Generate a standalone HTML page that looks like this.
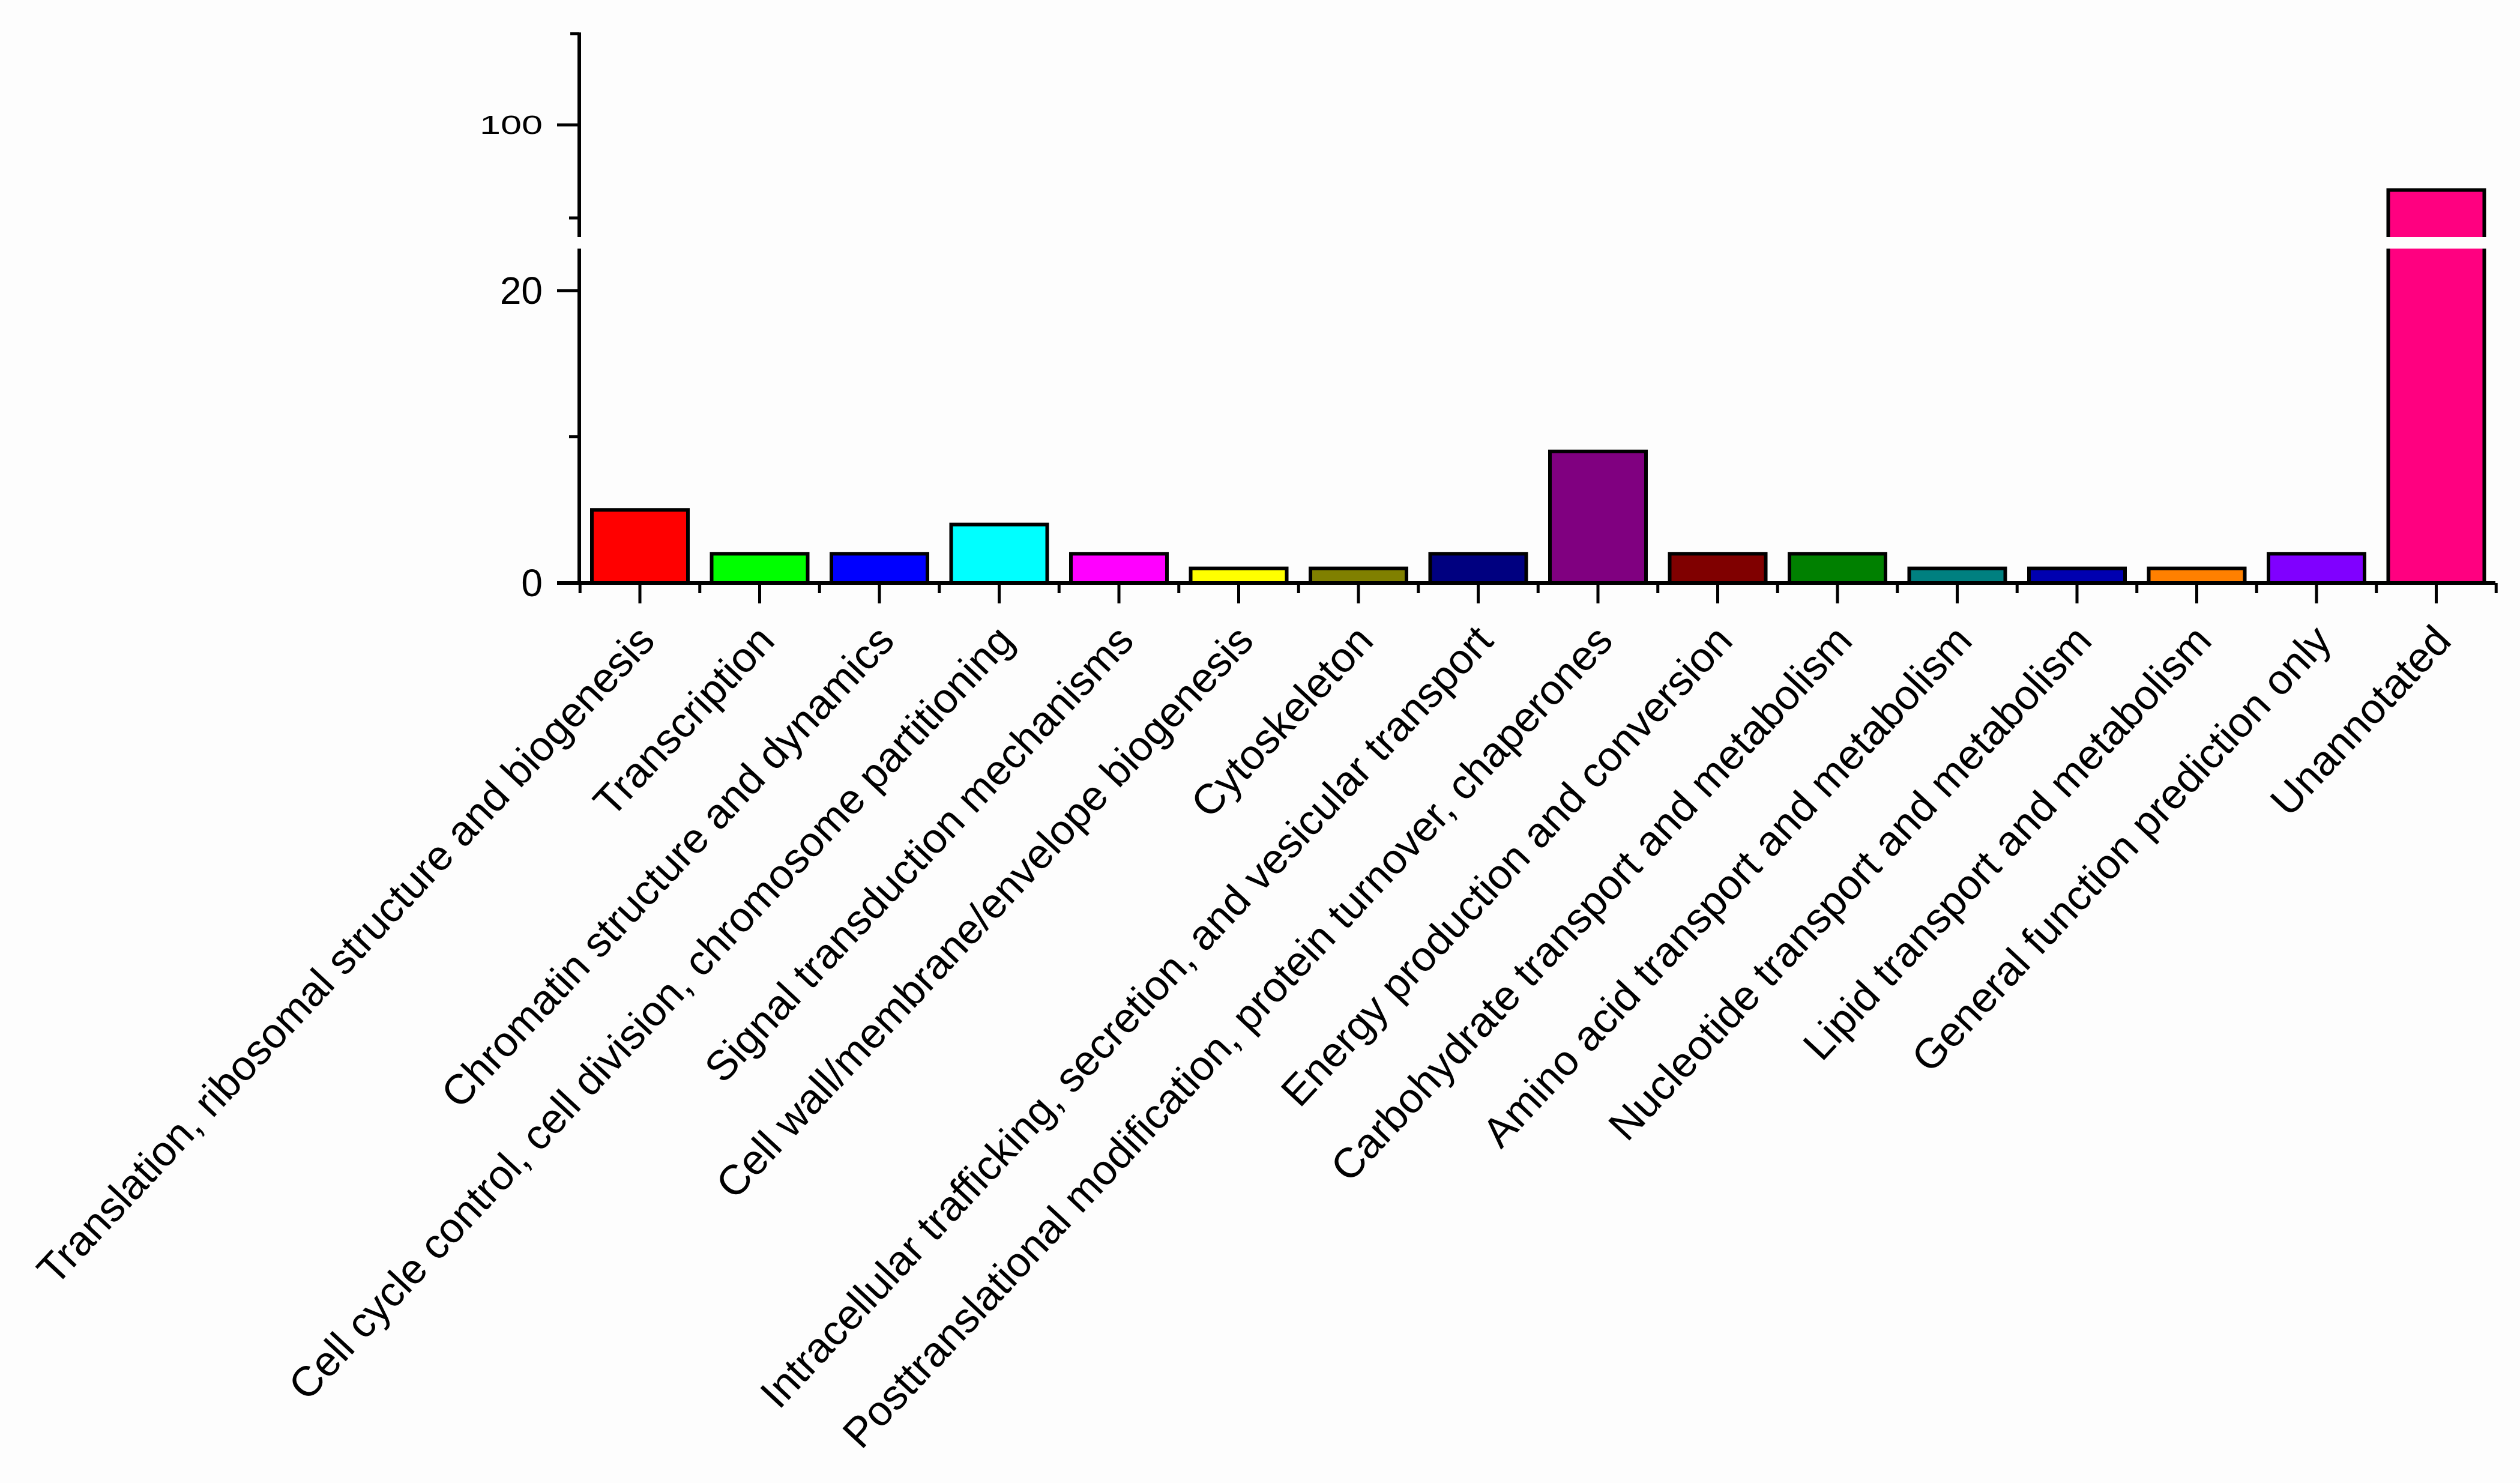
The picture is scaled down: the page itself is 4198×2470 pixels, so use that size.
<!DOCTYPE html>
<html><head><meta charset="utf-8"><style>
html,body{margin:0;padding:0;background:#fdfdfd;}
svg{display:block;}
text{font-family:"Liberation Sans",Arial,sans-serif;fill:#000;}
</style></head><body>
<svg id="chart" width="4198" height="2470" viewBox="0 0 4198 2470" xmlns="http://www.w3.org/2000/svg">
<rect x="0" y="0" width="4198" height="2470" fill="#fdfdfd"/>
<g id="g"></g>
</svg>
<script>
const categories = ["Translation, ribosomal structure and biogenesis","Transcription","Chromatin structure and dynamics","Cell cycle control, cell division, chromosome partitioning","Signal transduction mechanisms","Cell wall/membrane/envelope biogenesis","Cytoskeleton","Intracellular trafficking, secretion, and vesicular transport","Posttranslational modification, protein turnover, chaperones","Energy production and conversion","Carbohydrate transport and metabolism","Amino acid transport and metabolism","Nucleotide transport and metabolism","Lipid transport and metabolism","General function prediction only","Unannotated"];
const values = [5,2,2,4,2,1,1,2,9,2,2,1,1,1,2,86];
const colors = ["#ff0000","#00ff00","#0000ff","#00ffff","#ff00ff","#ffff00","#808000","#000080","#800080","#800000","#008000","#008080","#0000b0","#ff8000","#8000ff","#ff0080"];
const lowerTicks = [0,20];
const upperTicks = [100];

const NS="http://www.w3.org/2000/svg";
const g=document.getElementById('g');
function mk(tag,attrs){const e=document.createElementNS(NS,tag);for(const k in attrs)e.setAttribute(k,attrs[k]);g.appendChild(e);return e;}
const AX=965, Y0=971, LOWER_TOP=414, UPPER_BOT=395, UPPER_TOP=54;
const PX_LOW=24.35;
const LOW_MAX=(Y0-LOWER_TOP)/PX_LOW;
const UP_REF=100, UP_REF_Y=208, PX_UP=(363-208)/20;
function yLow(v){return Y0-v*PX_LOW;}
function yUp(v){return UP_REF_Y-(v-UP_REF)*PX_UP;}
const X0=1066, STEP=199.5, BW=160;
function xC(i){return X0+i*STEP;}

values.forEach((v,i)=>{
  const x=xC(i)-BW/2;
  if(v<=LOW_MAX){
    const r=mk('rect',{x:x,y:yLow(v),width:BW,height:Y0-yLow(v),fill:colors[i],stroke:'#000','stroke-width':6});
    
    
  } else {
    const r=mk('rect',{x:x,y:yUp(v),width:BW,height:Y0-yUp(v),fill:colors[i],stroke:'#000','stroke-width':6});
    
    
    const b=mk('rect',{x:x-6,y:UPPER_BOT,width:BW+12,height:LOWER_TOP-UPPER_BOT,fill:'#fdfdfd'});
    
    
  }
});
let a=mk('line',{x1:AX,y1:UPPER_TOP,x2:AX,y2:UPPER_BOT,stroke:'#000','stroke-width':6});


a=mk('line',{x1:AX,y1:LOWER_TOP,x2:AX,y2:Y0+3,stroke:'#000','stroke-width':6});


a=mk('line',{x1:950,y1:UPPER_TOP+2,x2:AX,y2:UPPER_TOP+2,stroke:'#000','stroke-width':5});


a=mk('line',{x1:928,y1:Y0,x2:4157,y2:Y0,stroke:'#000','stroke-width':6});


lowerTicks.forEach(v=>{
  const t=mk('line',{x1:928,y1:yLow(v),x2:AX,y2:yLow(v),stroke:'#000','stroke-width':5});
  
  
  const l=mk('text',{x:904,y:yLow(v)+22,'text-anchor':'end','font-size':64});
  l.textContent=v;
  
  
});
[10].forEach(v=>{const t=mk('line',{x1:948,y1:yLow(v),x2:AX,y2:yLow(v),stroke:'#000','stroke-width':5});
  
  });
upperTicks.forEach(v=>{
  const t=mk('line',{x1:928,y1:yUp(v),x2:AX,y2:yUp(v),stroke:'#000','stroke-width':5});
  
  
  const l=mk('text',{x:904,y:yUp(v)+15,'text-anchor':'end','font-size':44,'textLength':105,'lengthAdjust':'spacingAndGlyphs'});
  l.textContent=v;
  
  
});
[80].forEach(v=>{const t=mk('line',{x1:948,y1:yUp(v),x2:AX,y2:yUp(v),stroke:'#000','stroke-width':5});
  
  });
categories.forEach((c,i)=>{
  const t=mk('line',{x1:xC(i),y1:Y0,x2:xC(i),y2:1005,stroke:'#000','stroke-width':5});
  
  
  const m=mk('line',{x1:xC(i)-STEP/2,y1:Y0,x2:xC(i)-STEP/2,y2:988,stroke:'#000','stroke-width':5});
  
  
  const l=mk('text',{'text-anchor':'end','font-size':70,transform:'translate('+(xC(i)+28)+',1070) rotate(-47)'});
  l.textContent=c;
  
  
});
const m=mk('line',{x1:xC(categories.length-1)+STEP/2,y1:Y0,x2:xC(categories.length-1)+STEP/2,y2:988,stroke:'#000','stroke-width':5});


</script>
</body></html>
